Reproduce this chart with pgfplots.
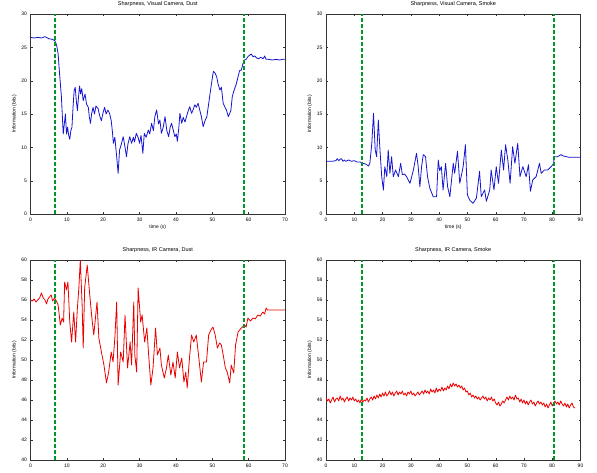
\documentclass[border=0pt]{standalone}
\usepackage{fontspec}
\setmainfont{Liberation Sans}
\usepackage{pgfplots}
\pgfplotsset{compat=1.18}

\definecolor{mblue}{RGB}{20,20,210}
\definecolor{mred}{RGB}{235,0,0}
\definecolor{mgreen}{RGB}{0,150,40}

\pgfplotsset{
  mat/.style={
    scale only axis, width=254.5pt, height=200pt,
    axis line style={black!80, line width=0.4pt},
    tick align=inside, major tick length=2pt,
    tick style={black!80, line width=0.3pt},
    tick label style={font=\fontsize{5}{6}\selectfont},
    /pgf/number format/assume math mode=true,
    label style={font=\fontsize{5}{6}\selectfont},
    title style={font=\fontsize{5.5}{6.5}\selectfont, yshift=-2pt},
    ylabel={Information (bits)},
    xlabel style={yshift=3pt},
    ylabel style={yshift=-2pt},
  },
  vline/.style={mgreen, line width=1.5pt, dash pattern=on 4pt off 2pt},
  blueline/.style={mblue, line width=0.8pt, line join=round},
  redline/.style={mred, line width=0.8pt, line join=round},
}

\begin{document}
\begin{tikzpicture}[x=1pt,y=1pt]
\useasboundingbox (0,0) rectangle (597,472);

% top left
\begin{axis}[mat, at={(30.5pt,258pt)}, anchor=south west,
  xmin=0, xmax=70, ymin=0, ymax=30,
  xtick={0,10,...,70}, ytick={0,5,...,30},
  xlabel={time (s)},
  title={Sharpness, Visual Camera, Dust}]
\addplot[blueline] coordinates {
(0,26.5)(1,26.4)(2,26.5)(3,26.4)(4,26.6)(5,26.3)(6,26.2)(6.7,26.0)(7.2,25.3)(7.6,24)(8.0,21)(8.5,17.6)(9,12)(9.3,13.5)(9.6,15)(9.9,12)(10.2,13)(10.5,11.8)(10.8,11.2)(11.1,12.5)(11.4,13)(11.7,16)(12,18.5)(12.3,19)(12.6,17)(12.9,15.5)(13.2,17.5)(13.5,19.2)(13.8,18)(14.1,18.8)(14.5,17)(15,18)(15.4,16.5)(15.9,16)(16.2,14.5)(16.5,13.6)(16.8,15)(17.2,16)(17.6,15)(18,16.2)(18.6,15.8)(19,14.8)(19.5,14)(20,15.3)(20.4,16)(20.8,15)(21.3,15.6)(21.8,15)(22.2,14)(22.5,12.5)(22.8,10.6)(23.2,11.5)(23.7,8.6)(24.1,6.1)(24.5,9.6)(25,10.5)(25.5,11.6)(26,10)(26.4,8.6)(26.8,10.5)(27.3,11.6)(27.8,10.6)(28.3,11.5)(28.6,10.8)(29.1,12.1)(29.6,11.5)(30,10.6)(30.4,11.8)(30.9,9.1)(31.3,12.1)(31.8,11.5)(32.4,12.6)(32.8,12)(33.3,13.6)(33.8,12.5)(34.2,14.6)(34.7,15.6)(35.2,13.5)(35.6,14.1)(36,12.1)(36.5,13)(37,14.6)(37.5,12.5)(38,11.6)(38.4,13)(38.8,13.6)(39.3,12.5)(39.7,11.6)(40.1,12)(40.4,10.9)(40.8,13)(41.1,15.1)(41.6,13.6)(42,14.5)(42.5,13.8)(42.9,14.6)(43.4,15.5)(43.8,16.1)(44.3,15.1)(44.7,15.6)(45.2,16.4)(45.6,16)(46.1,16.6)(46.6,15.5)(47,14.6)(47.5,13.1)(48,14)(48.5,14.6)(49,16.5)(49.4,18.1)(49.9,20)(50.3,21.4)(50.7,21.2)(51.2,20.6)(51.6,19.5)(52.1,18.6)(52.5,19)(53,16.6)(53.5,16)(53.9,15.6)(54.4,14.6)(54.8,15.1)(55.1,15.5)(55.5,17.6)(55.8,18.2)(56.2,18.9)(56.6,19.5)(57.1,20.6)(57.5,21.5)(58,21.6)(58.4,22.5)(58.9,23.1)(59.3,23.2)(59.8,23.6)(60.2,23.8)(60.7,24)(61.2,23.6)(61.7,23.7)(62.2,23.4)(62.8,23.3)(63.3,23.5)(64,23.3)(64.4,23.7)(64.8,23.2)(65.5,23.2)(66.5,23.1)(67.5,23.2)(68.5,23.1)(69.3,23.2)(70,23.2)
};
\addplot[vline] coordinates {(6.7,0)(6.7,30)};
\addplot[vline] coordinates {(58.7,0)(58.7,30)};
\end{axis}

% top right
\begin{axis}[mat, at={(326pt,258pt)}, anchor=south west,
  xmin=0, xmax=90, ymin=0, ymax=30,
  xtick={0,10,...,90}, ytick={0,5,...,30},
  xlabel={time (s)},
  title={Sharpness, Visual Camera, Smoke}]
\addplot[blueline] coordinates {
(0,7.9)(2,7.9)(3.5,8.0)(4,8.3)(4.5,8.0)(5,8.2)(5.5,8.3)(6,7.9)(6.5,8.1)(7,7.9)(8,8.1)(9,7.9)(10,8.0)(11,7.8)(12,7.8)(13,7.6)(14,7.5)(15,7.2)(15.5,7.6)(16.2,10.6)(16.8,15.1)(17.4,9.6)(17.9,8.6)(18.5,14.1)(19.1,9.5)(19.7,5.6)(20.3,3.6)(20.8,7.1)(21.5,5.6)(22,9.6)(22.6,6.1)(23.2,8.6)(23.8,5.6)(24.6,6.6)(25.6,5.6)(26.4,7.6)(27,5.9)(27.8,6)(28.5,5.6)(29.7,4.6)(30.9,6.6)(32,9.1)(32.6,7.1)(33.2,4.1)(33.8,7.1)(34.4,8.9)(35.2,8.6)(35.9,5.6)(36.7,3.9)(37.9,2.6)(39.1,2.6)(39.7,8.1)(40.2,6.5)(40.8,7.1)(41.4,3.6)(42.3,7.6)(43,4.1)(43.8,2.6)(45,7.6)(45.5,6.1)(46.5,9.4)(47.3,4.6)(48.5,7.1)(49.3,10.4)(50,2.9)(50.8,2.1)(52,1.6)(53.2,2.4)(54.3,6.4)(54.9,2.6)(56.1,3.6)(56.7,1.9)(57.9,3.6)(58.4,6.6)(59.4,3.6)(60.2,7.1)(61,4.6)(62,9.6)(62.8,6.6)(63.5,10.4)(64.3,8.1)(65.1,4.6)(66,10.1)(66.8,7.6)(67.8,10.6)(68.6,5.6)(69.6,7.1)(70.8,5.6)(71.6,7.4)(72.3,3.4)(73.1,5.1)(74.3,5.6)(75.5,7.6)(76.1,6.1)(77.2,6.6)(78.4,6.6)(79.6,7.1)(80.4,7.5)(80.8,8.6)(81.9,8.6)(83.1,8.9)(84,8.7)(85,8.6)(86,8.5)(90,8.5)
};
\addplot[vline] coordinates {(12.8,0)(12.8,30)};
\addplot[vline] coordinates {(80.7,0)(80.7,30)};
\end{axis}

% bottom left
\begin{axis}[mat, at={(30.5pt,12pt)}, anchor=south west,
  xmin=0, xmax=70, ymin=40, ymax=60,
  xtick={0,10,...,70}, ytick={40,42,...,60},
  title={Sharpness, IR Camera, Dust}]
\addplot[redline] coordinates {
(0,56)(0.5,55.9)(1,56.1)(1.5,55.8)(2,56)(2.5,56.2)(3,56.7)(3.5,56.2)(4,56)(4.4,55.6)(4.8,56.1)(5.2,56.3)(5.7,56.5)(6.1,55.9)(6.6,56.2)(7.1,55.9)(7.6,55.5)(8.2,53.5)(8.7,54.2)(9.1,53.8)(9.4,57.8)(9.9,57)(10.3,57.8)(10.8,53.8)(11.3,51.8)(11.9,54.8)(12.4,51.8)(12.9,55.2)(13.3,57.2)(13.7,60)(14.2,55.5)(14.5,51.2)(14.9,57.2)(15.6,59.5)(16.3,56.5)(16.8,54.5)(17.4,52.5)(18.3,55.8)(18.8,52.2)(19.5,50.8)(20.2,49.5)(20.9,47.7)(21.5,48.8)(22.2,50.8)(22.7,49.8)(23.2,52.2)(23.7,55.8)(24.1,47.5)(24.8,50.8)(25.5,49.8)(26,54.5)(26.7,49.2)(27.4,51.8)(27.8,49.5)(28.4,55.8)(28.7,50.5)(29.2,48.8)(29.6,57.2)(30.3,53.8)(30.7,54.5)(31.4,51.8)(32,53.2)(32.5,50.5)(33.1,47.5)(33.7,49.2)(34.4,53.2)(34.9,50.5)(35.6,51.2)(36,49.5)(36.8,48.2)(37.4,49.2)(37.9,50.5)(38.6,48.5)(39.2,49.8)(39.8,48.2)(40.4,50.8)(41,49.2)(41.6,50.2)(42.2,47.8)(42.7,48.8)(43.1,47.2)(43.8,50.5)(44.3,52.5)(44.9,51.8)(45.6,52.5)(46.3,50.2)(47,47.8)(47.6,49.8)(48.4,49.8)(49,52.5)(49.6,53)(50.2,53.3)(50.8,52.5)(51.4,51.2)(52,51.7)(52.5,51.5)(53,50.5)(53.6,49.2)(54.1,48.8)(54.8,47.7)(55.2,49.5)(55.9,48.7)(56.4,51.5)(57.1,52.8)(58,53.2)(58.9,53.5)(59.3,53.3)(59.8,54.2)(60.5,53.9)(61.2,54.2)(61.8,54.1)(62.5,54.5)(63.2,54.4)(63.9,54.8)(64.4,54.6)(64.8,55.2)(65.2,55)(70,55)
};
\addplot[vline] coordinates {(6.7,40)(6.7,60)};
\addplot[vline] coordinates {(58.7,40)(58.7,60)};
\end{axis}

% bottom right
\begin{axis}[mat, at={(326pt,12pt)}, anchor=south west,
  xmin=0, xmax=90, ymin=40, ymax=60,
  xtick={0,10,...,90}, ytick={40,42,...,60},
  title={Sharpness, IR Camera, Smoke}]
\addplot[redline] coordinates {
(0,46.2)(0.5,45.9)(1,46.1)(1.5,45.7)(2,46.0)(2.5,46.3)(3,45.8)(3.5,46.1)(4,46.2)(4.5,45.9)(5,46.4)(5.5,46.0)(6,46.2)(6.5,45.8)(7,46.1)(7.5,46.3)(8,45.9)(8.5,46.2)(9,46.0)(9.5,46.3)(10,45.9)(10.5,46.1)(11,45.8)(11.5,46.0)(12,45.7)(12.5,46.1)(13,45.8)(13.5,46.0)(14,45.9)(14.5,46.2)(15,45.8)(15.5,46.1)(16,46.3)(16.5,46.0)(17,46.4)(17.5,46.1)(18,46.5)(18.5,46.2)(19,46.6)(19.5,46.3)(20,46.7)(20.5,46.4)(21,46.8)(21.5,46.4)(22,46.6)(22.5,46.9)(23,46.5)(23.5,46.8)(24,46.4)(24.5,46.7)(25,46.9)(25.5,46.5)(26,46.8)(26.5,46.6)(27,46.9)(27.5,46.5)(28,46.7)(28.5,46.4)(29,46.8)(29.5,46.6)(30,46.9)(30.5,46.5)(31,46.7)(31.5,46.4)(32,46.6)(32.5,46.8)(33,46.5)(33.5,46.7)(34,46.9)(34.5,46.6)(35,47.0)(35.5,46.7)(36,46.9)(36.5,46.6)(37,47.1)(37.5,46.8)(38,47.0)(38.5,46.7)(39,47.2)(39.5,46.8)(40,47.1)(40.5,46.9)(41,47.3)(41.5,46.9)(42,47.2)(42.5,47.0)(43,47.4)(43.5,47.1)(44,47.6)(44.5,47.3)(45,47.7)(45.5,47.4)(46,47.6)(46.5,47.3)(47,47.5)(47.5,47.2)(48,47.4)(48.5,47.0)(49,47.2)(49.5,46.8)(50,46.9)(50.5,46.5)(51,46.7)(51.5,46.3)(52,46.5)(52.5,46.2)(53,46.4)(53.5,46.1)(54,46.3)(54.5,46.0)(55,46.2)(55.5,46.4)(56,46.1)(56.5,46.3)(57,45.9)(57.5,46.2)(58,46.0)(58.5,46.3)(59,45.9)(59.5,46.1)(60,45.7)(60.5,45.5)(61,45.8)(61.5,45.4)(62,45.6)(62.5,45.9)(63,45.7)(63.5,46.0)(64,46.3)(64.5,46.0)(65,46.4)(65.5,46.1)(66,46.3)(66.5,46.0)(67,46.5)(67.5,46.1)(68,46.2)(68.5,45.8)(69,46.1)(69.5,45.7)(70,46.0)(70.5,45.6)(71,45.9)(71.5,45.5)(72,45.8)(72.5,46.0)(73,45.6)(73.5,45.8)(74,45.4)(74.5,45.7)(75,45.9)(75.5,45.6)(76,45.8)(76.5,45.5)(77,45.7)(77.5,45.3)(78,45.6)(78.5,45.2)(79,45.5)(79.5,45.8)(80,45.4)(80.5,45.7)(81,45.9)(81.5,45.6)(82,45.8)(82.5,45.5)(83,45.9)(83.5,45.6)(84,45.4)(84.5,45.7)(85,45.3)(85.5,45.6)(86,45.2)(86.5,45.5)(87,45.7)(87.5,45.3)(88,45.2)
};
\addplot[vline] coordinates {(12.8,40)(12.8,60)};
\addplot[vline] coordinates {(80.7,40)(80.7,60)};
\end{axis}
\end{tikzpicture}
\end{document}
